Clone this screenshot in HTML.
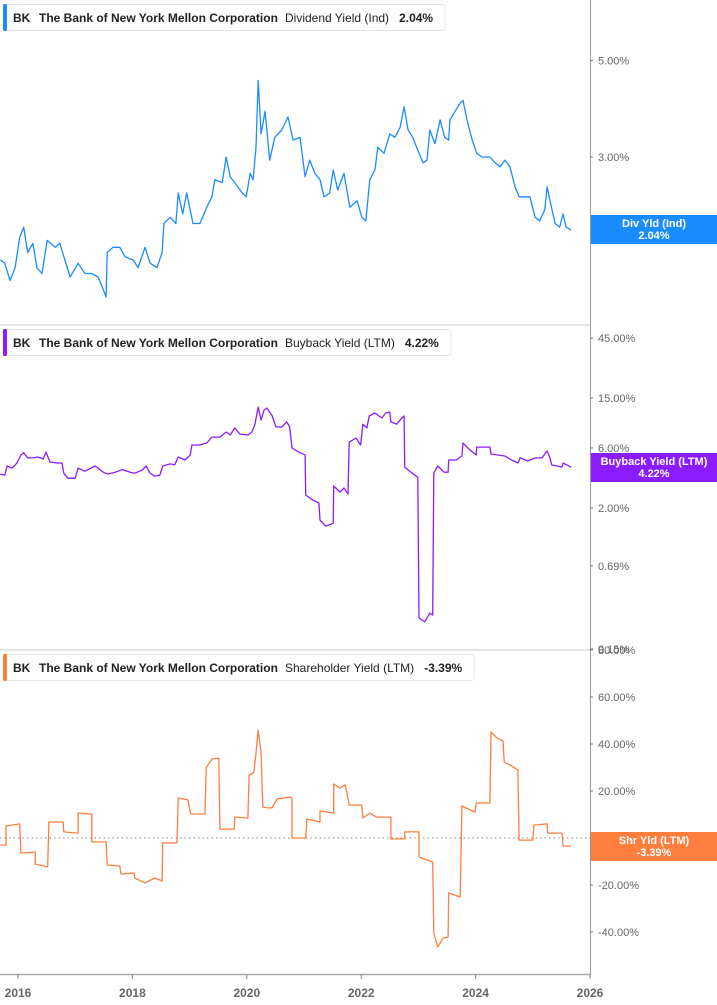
<!DOCTYPE html>
<html><head><meta charset="utf-8">
<style>
body{margin:0;background:#fff;font-family:"Liberation Sans",Arial,sans-serif;}
svg{display:block}
</style></head>
<body>
<svg id="chart" width="717" height="1005" viewBox="0 0 717 1005" xmlns="http://www.w3.org/2000/svg">
</svg>
<script>
// ---- Data ----
const divDates=[2015.69,2015.77,2015.86,2015.95,2016.03,2016.10,2016.17,2016.26,2016.33,2016.42,2016.51,2016.65,2016.73,2016.82,2016.91,2017.05,2017.17,2017.29,2017.40,2017.49,2017.54,2017.56,2017.66,2017.78,2017.87,2018.01,2018.10,2018.22,2018.31,2018.43,2018.52,2018.55,2018.66,2018.76,2018.80,2018.88,2018.95,2019.06,2019.18,2019.30,2019.39,2019.44,2019.57,2019.64,2019.71,2019.79,2019.92,2019.99,2020.06,2020.11,2020.16,2020.20,2020.25,2020.32,2020.40,2020.49,2020.61,2020.72,2020.81,2020.93,2021.02,2021.10,2021.19,2021.28,2021.35,2021.45,2021.51,2021.59,2021.70,2021.80,2021.93,2022.01,2022.08,2022.15,2022.24,2022.29,2022.40,2022.50,2022.59,2022.68,2022.75,2022.82,2022.90,2022.99,2023.08,2023.15,2023.20,2023.29,2023.38,2023.46,2023.53,2023.55,2023.64,2023.73,2023.78,2023.85,2023.94,2024.02,2024.11,2024.25,2024.34,2024.43,2024.51,2024.60,2024.69,2024.76,2024.86,2024.95,2025.04,2025.12,2025.21,2025.25,2025.30,2025.39,2025.47,2025.53,2025.58,2025.67];
const divValues=[1.74,1.71,1.56,1.67,1.96,2.07,1.81,1.90,1.67,1.62,1.93,1.86,1.90,1.74,1.59,1.71,1.62,1.62,1.59,1.49,1.43,1.81,1.86,1.86,1.77,1.74,1.67,1.86,1.71,1.67,1.81,2.11,2.18,2.11,2.48,2.22,2.48,2.11,2.11,2.30,2.43,2.66,2.62,3.00,2.70,2.62,2.48,2.43,2.75,2.66,3.16,4.50,3.39,3.82,2.95,3.33,3.46,3.71,3.28,3.33,2.70,2.95,2.75,2.66,2.43,2.48,2.80,2.52,2.75,2.30,2.38,2.18,2.14,2.66,2.80,3.16,3.06,3.39,3.33,3.51,3.91,3.46,3.33,3.11,2.91,2.95,3.46,3.22,3.65,3.33,3.28,3.65,3.82,3.99,4.05,3.65,3.28,3.06,3.00,3.00,2.91,2.85,2.95,2.85,2.56,2.43,2.43,2.43,2.18,2.14,2.27,2.56,2.38,2.11,2.07,2.22,2.07,2.04];
const bbDates=[2015.69,2015.77,2015.81,2015.90,2015.98,2016.05,2016.10,2016.17,2016.26,2016.35,2016.44,2016.49,2016.56,2016.68,2016.77,2016.80,2016.87,2017.00,2017.05,2017.17,2017.35,2017.49,2017.57,2017.70,2017.82,2017.96,2018.04,2018.17,2018.24,2018.31,2018.39,2018.48,2018.53,2018.66,2018.74,2018.80,2018.92,2019.01,2019.04,2019.18,2019.30,2019.39,2019.53,2019.64,2019.71,2019.79,2019.88,2020.02,2020.09,2020.14,2020.20,2020.25,2020.30,2020.35,2020.44,2020.51,2020.61,2020.70,2020.75,2020.79,2020.93,2021.02,2021.03,2021.16,2021.26,2021.28,2021.38,2021.51,2021.52,2021.63,2021.70,2021.77,2021.79,2021.91,2021.99,2022.03,2022.10,2022.14,2022.24,2022.36,2022.43,2022.50,2022.52,2022.62,2022.71,2022.75,2022.76,2022.89,2022.99,2023.01,2023.11,2023.20,2023.25,2023.27,2023.34,2023.45,2023.52,2023.53,2023.66,2023.76,2023.78,2023.90,2024.01,2024.02,2024.25,2024.27,2024.51,2024.63,2024.74,2024.78,2024.91,2025.04,2025.16,2025.25,2025.30,2025.33,2025.51,2025.53,2025.67];
const bbValues=[3.72,3.65,4.31,4.15,4.56,5.28,5.49,5.00,5.00,5.09,4.91,5.57,4.64,4.56,4.56,3.78,3.45,3.45,4.15,3.92,4.31,3.85,3.72,3.85,4.04,3.85,3.78,4.00,4.31,3.78,3.58,3.65,4.31,4.48,4.40,5.09,4.81,5.28,6.34,6.34,6.58,7.33,7.33,8.05,7.62,8.67,7.74,7.62,8.05,9.16,12.7,10.02,12.0,12.5,10.9,8.82,8.82,9.68,8.82,6.0,5.49,5.3,2.53,2.30,2.19,1.60,1.43,1.51,2.99,2.67,2.88,2.58,6.68,7.19,6.34,9.29,8.67,10.8,11.4,10.4,11.4,11.6,9.68,9.29,10.4,10.8,4.23,3.78,3.51,0.265,0.247,0.29,0.28,3.78,4.31,3.85,3.85,4.81,4.81,5.18,6.58,5.79,5.28,6.1,6.1,5.37,5.18,4.81,4.56,5.0,4.73,5.0,5.0,5.68,5.0,4.4,4.23,4.56,4.22];
const shDates=[2015.69,2015.79,2015.79,2016.03,2016.05,2016.30,2016.30,2016.52,2016.54,2016.79,2016.80,2017.05,2017.05,2017.29,2017.29,2017.54,2017.56,2017.78,2017.80,2018.03,2018.04,2018.22,2018.39,2018.52,2018.53,2018.78,2018.80,2018.97,2019.02,2019.27,2019.29,2019.39,2019.51,2019.53,2019.78,2019.79,2020.02,2020.04,2020.12,2020.16,2020.20,2020.25,2020.28,2020.37,2020.44,2020.53,2020.75,2020.79,2020.79,2021.03,2021.05,2021.28,2021.28,2021.52,2021.52,2021.63,2021.72,2021.79,2022.01,2022.03,2022.15,2022.27,2022.52,2022.52,2022.76,2022.76,2023.01,2023.01,2023.25,2023.27,2023.34,2023.43,2023.52,2023.53,2023.73,2023.76,2023.99,2024.01,2024.25,2024.27,2024.37,2024.48,2024.50,2024.60,2024.74,2024.76,2025.00,2025.02,2025.25,2025.26,2025.51,2025.53,2025.67];
const shValues=[-3,-3,5.1,6.0,-6.4,-6.0,-11.1,-12.3,6.8,6.8,2.6,2.1,10.6,10.2,-1.7,-1.7,-11.5,-11.9,-15.3,-14.9,-17,-19.1,-17,-18.3,-2.1,-2.1,17,16.2,10.2,10.2,29.8,33.6,34,3.8,3.8,8.9,8.5,26.8,27.7,36.2,46,36.2,13.2,12.8,12.8,16.6,17.4,17,0,0,8.1,6.8,11.5,10.6,23,21.3,22.6,14,14,8.5,10.6,8.9,8.9,-0.4,-0.4,2.6,2.6,-8.1,-10.2,-40.4,-46.4,-42.6,-42.2,-23.4,-25.1,13.6,11,14.9,14.9,45.1,42.6,41.3,32.3,31.1,28.9,-0.9,-0.9,5.5,6.0,2.1,2.1,-3.4,-3.39];
const xTicks=[2016,2018,2020,2022,2024,2026];
const divTicks=[5,3,2];
const divTickLabels=["5.00%","3.00%","2.00%"];
const bbTicks=[45,15,6,2,0.69,0.15];
const bbTickLabels=["45.00%","15.00%","6.00%","2.00%","0.69%","0.15%"];
const shTicks=[80,60,40,20,0,-20,-40];
const shTickLabels=["80.00%","60.00%","40.00%","20.00%","0.00%","-20.00%","-40.00%"];

// ---- Scales ----
const xS=t=>18+(t-2016)*57.2;
const yDiv=v=>157-189*Math.log(v/3);
const yBb=v=>448-54.5*Math.log(v/6);
const ySh=v=>838-2.35*v;
const NS='http://www.w3.org/2000/svg';
const svg=document.getElementById('chart');
function mk(tag,attrs,parent){const e=document.createElementNS(NS,tag);for(const k in attrs)e.setAttribute(k,attrs[k]);(parent||svg).appendChild(e);return e;}
function txt(x,y,s,attrs){const e=mk('text',Object.assign({x:x,y:y},attrs));e.textContent=s;return e;}

let sep1=mk('line',{x1:0,y1:325,x2:590,y2:325,stroke:'#c8c8c8','stroke-width':1});


let sep2=mk('line',{x1:0,y1:650,x2:590,y2:650,stroke:'#c8c8c8','stroke-width':1});


let ra=mk('line',{x1:590.5,y1:0,x2:590.5,y2:975,stroke:'#999','stroke-width':1});


let zl=mk('line',{x1:0,y1:ySh(0),x2:590,y2:ySh(0),stroke:'#888','stroke-width':1,'stroke-dasharray':'1.5,3'});



function yTicks(ticks,labels,ys,name){
  const g=mk('g',{});
  
  
  ticks.forEach((v,i)=>{
    const y=ys(v);
    mk('line',{x1:590,y1:y,x2:593,y2:y,stroke:'#777'},g);
    g.appendChild(txt(598,y+4,labels[i],{'font-size':11,fill:'#666'}));
  });
}
yTicks(divTicks,divTickLabels,yDiv,'div-y-axis');
yTicks(bbTicks,bbTickLabels,yBb,'buyback-y-axis');
yTicks(shTicks,shTickLabels,ySh,'shyield-y-axis');

function series(dates,vals,ys,color,name){
  let d='';
  dates.forEach((t,i)=>{d+=(i?'L':'M')+xS(t).toFixed(1)+','+ys(vals[i]).toFixed(1);});
  const p=mk('path',{d:d,fill:'none',stroke:color,'stroke-width':1.3,'stroke-linejoin':'round'});
  
  
}
series(divDates,divValues,yDiv,'#1a8cff','dividend-yield-line');
series(bbDates,bbValues,yBb,'#8a1cff','buyback-yield-line');
series(shDates,shValues,ySh,'#ff7d3d','shareholder-yield-line');

let xa=mk('line',{x1:0,y1:974.5,x2:590,y2:974.5,stroke:'#aaa','stroke-width':1.5});


xTicks.forEach(t=>{
  const x=xS(t);
  mk('line',{x1:x,y1:974,x2:x,y2:979,stroke:'#888'});
  const l=txt(x,997,String(t),{'font-size':12,'font-weight':'bold',fill:'#666','text-anchor':'middle'});
  
  
});

function badge(y,color,l1,l2,name){
  const g=mk('g',{});
  
  
  mk('rect',{x:591,y:y,width:126,height:29,fill:color},g);
  g.appendChild(txt(654,y+12,l1,{'font-size':11,'font-weight':'bold',fill:'#fff','text-anchor':'middle'}));
  g.appendChild(txt(654,y+24,l2,{'font-size':11,'font-weight':'bold',fill:'#fff','text-anchor':'middle'}));
}
badge(215,'#1a8cff','Div Yld (Ind)','2.04%','div-yield-badge');
badge(453,'#8a1cff','Buyback Yield (LTM)','4.22%','buyback-yield-badge');
badge(832,'#ff7d3d','Shr Yld (LTM)','-3.39%','shyield-badge');

function header(y,color,metric,val,name){
  const g=mk('g',{});
  
  
  const box=mk('rect',{x:3.5,y:y+0.5,width:440,height:26,rx:3,fill:'#fff',stroke:'#e6e6e6'},g);
  mk('rect',{x:3,y:y,width:4,height:27,rx:1.5,fill:color},g);
  g.appendChild(txt(13,y+18,'BK',{'font-size':12,'font-weight':'bold',fill:'#222'}));
  g.appendChild(txt(39,y+18,'The Bank of New York Mellon Corporation',{'font-size':12,'font-weight':'bold',fill:'#222'}));
  const m=txt(285,y+18,metric,{'font-size':12,fill:'#222'});
  g.appendChild(m);
  const mx=285+m.getComputedTextLength()+10;
  const v=txt(mx,y+18,val,{'font-size':12,'font-weight':'bold',fill:'#222'});
  g.appendChild(v);
  box.setAttribute('width',mx+v.getComputedTextLength()+12-3.5);
}
header(4,'#1a8cff','Dividend Yield (Ind)','2.04%','div-header');
header(329,'#8a1cff','Buyback Yield (LTM)','4.22%','buyback-header');
header(654,'#ff7d3d','Shareholder Yield (LTM)','-3.39%','shyield-header');
</script>
</body></html>
